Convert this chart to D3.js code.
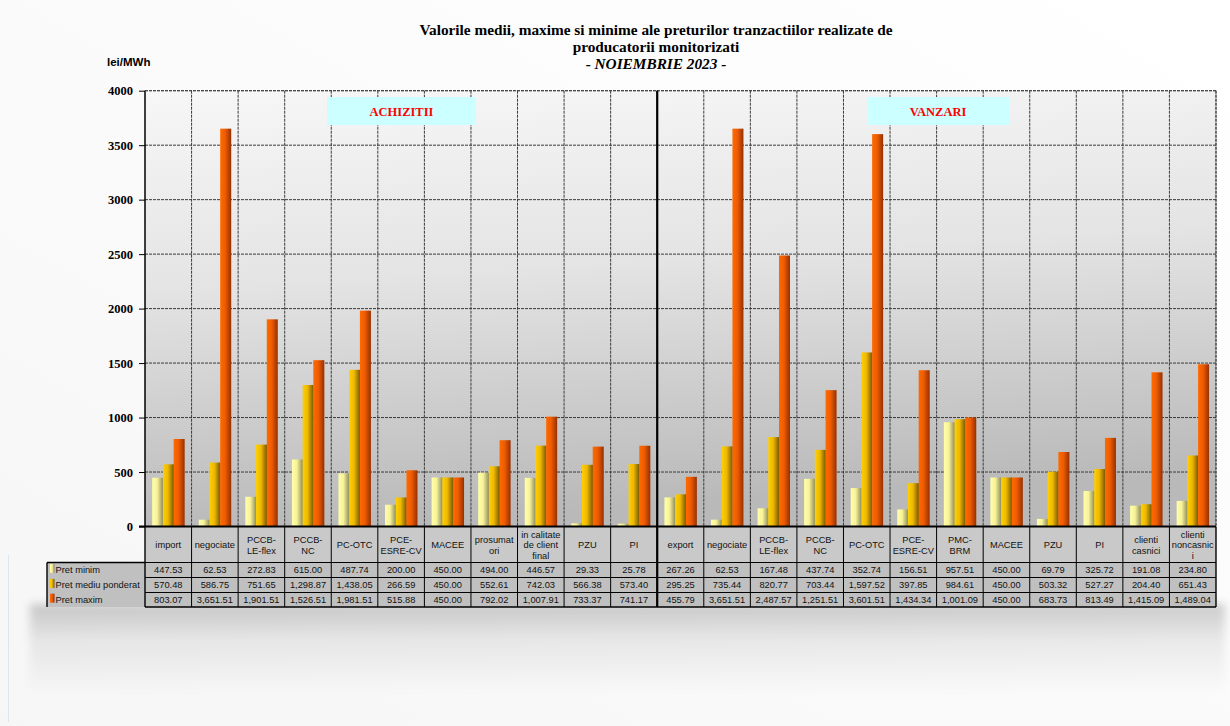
<!DOCTYPE html>
<html><head><meta charset="utf-8">
<script src="https://cdn.jsdelivr.net/npm/d3@7"></script>
<style>body{margin:0;background:#fff;}svg{display:block;}</style>
</head><body>
<script>
const categories = ["import","negociate","PCCB-LE-flex","PCCB-NC","PC-OTC","PCE-ESRE-CV","MACEE","prosumatori","in calitate de client final","PZU","PI","export","negociate","PCCB-LE-flex","PCCB-NC","PC-OTC","PCE-ESRE-CV","PMC-BRM","MACEE","PZU","PI","clienti casnici","clienti noncasnici"];
const categoryLines = [["import"],["negociate"],["PCCB-","LE-flex"],["PCCB-","NC"],["PC-OTC"],["PCE-","ESRE-CV"],["MACEE"],["prosumat","ori"],["in calitate","de client","final"],["PZU"],["PI"],["export"],["negociate"],["PCCB-","LE-flex"],["PCCB-","NC"],["PC-OTC"],["PCE-","ESRE-CV"],["PMC-","BRM"],["MACEE"],["PZU"],["PI"],["clienti","casnici"],["clienti","noncasnic","i"]];
const seriesNames = ["Pret minim","Pret mediu ponderat","Pret maxim"];
const pretMinim = [447.53,62.53,272.83,615.00,487.74,200.00,450.00,494.00,446.57,29.33,25.78,267.26,62.53,167.48,437.74,352.74,156.51,957.51,450.00,69.79,325.72,191.08,234.80];
const pretMediu = [570.48,586.75,751.65,1298.87,1438.05,266.59,450.00,552.61,742.03,566.38,573.40,295.25,735.44,820.77,703.44,1597.52,397.85,984.61,450.00,503.32,527.27,204.40,651.43];
const pretMaxim = [803.07,3651.51,1901.51,1526.51,1981.51,515.88,450.00,792.02,1007.91,733.37,741.17,455.79,3651.51,2487.57,1251.51,3601.51,1434.34,1001.09,450.00,683.73,813.49,1415.09,1489.04];
const yTicks = [0,500,1000,1500,2000,2500,3000,3500,4000];
const titleLines = ["Valorile medii, maxime si minime ale preturilor tranzactiilor realizate de","producatorii monitorizati","- NOIEMBRIE 2023 -"];
const sectionLabels = ["ACHIZITII","VANZARI"];
const splitIndex = 11;

const W=1230,H=726;
const L=145,R=1216,T=90.7,B=526.5;
const series=[pretMinim,pretMediu,pretMaxim];
const grads=[["#ffffa8","#f8f298","#8a8a5e"],["#ffd000","#eeb800","#745600"],["#ff6a00","#ee5c00","#953000"]];

const svg=d3.select("body").append("svg").attr("width",W).attr("height",H);
const defs=svg.append("defs");
const bg=defs.append("linearGradient").attr("id","bgG").attr("x1",0).attr("y1",1).attr("x2",1).attr("y2",0);
bg.append("stop").attr("offset",0).attr("stop-color","#f6f6f6");
bg.append("stop").attr("offset",1).attr("stop-color","#ffffff");
const pg=defs.append("linearGradient").attr("id","plotG").attr("x1",0).attr("y1",0).attr("x2",0.15).attr("y2",1);
pg.append("stop").attr("offset",0).attr("stop-color","#f7f7f7");
pg.append("stop").attr("offset",0.45).attr("stop-color","#e4e4e4");
pg.append("stop").attr("offset",1).attr("stop-color","#b9b9b9");
grads.forEach((g,i)=>{
  const lg=defs.append("linearGradient").attr("id","bar"+i).attr("x1",0).attr("x2",1).attr("y1",0).attr("y2",0);
  lg.append("stop").attr("offset",0).attr("stop-color",g[0]);
  lg.append("stop").attr("offset",0.45).attr("stop-color",g[1]);
  lg.append("stop").attr("offset",1).attr("stop-color",g[2]);
});
const sg=defs.append("linearGradient").attr("id","shadowG").attr("x1",0).attr("x2",0).attr("y1",0).attr("y2",1);
sg.append("stop").attr("offset",0).attr("stop-color","#000").attr("stop-opacity",0.2);
sg.append("stop").attr("offset",0.4).attr("stop-color","#000").attr("stop-opacity",0.07);
sg.append("stop").attr("offset",1).attr("stop-color","#000").attr("stop-opacity",0);
defs.append("filter").attr("id","blur").attr("x","-5%").attr("y","-20%").attr("width","110%").attr("height","140%")
  .append("feGaussianBlur").attr("stdDeviation",4);

svg.append("rect").attr("width",W).attr("height",H).attr("fill","url(#bgG)");
svg.append("line").attr("x1",8.5).attr("x2",8.5).attr("y1",555).attr("y2",722).attr("stroke","#dce6f0");

const x=d3.scaleBand().domain(d3.range(categories.length)).range([L,R]).paddingInner(0).paddingOuter(0);
const y=d3.scaleLinear().domain([0,4000]).range([B,T]);
const bw=x.bandwidth();
const inner=d3.scaleBand().domain([0,1,2]).range([bw*0.155,bw*0.845]);

// table shadow
svg.append("rect").attr("x",30).attr("y",604).attr("width",1195).attr("height",90).attr("fill","url(#shadowG)").attr("filter","url(#blur)");

// plot bg
svg.append("rect").attr("x",L).attr("y",T).attr("width",R-L).attr("height",B-T).attr("fill","url(#plotG)");

// grid
svg.append("g").selectAll("line").data(yTicks.filter(d=>d>0)).join("line")
  .attr("x1",L).attr("x2",R).attr("y1",d=>y(d)).attr("y2",d=>y(d))
  .attr("stroke","#3a3a3a").attr("stroke-width",1).attr("stroke-dasharray","3,1");
svg.append("g").selectAll("line").data(d3.range(1,categories.length+1)).join("line")
  .attr("x1",d=>L+d*bw).attr("x2",d=>L+d*bw).attr("y1",T).attr("y2",B)
  .attr("stroke","#3a3a3a").attr("stroke-width",1).attr("stroke-dasharray","3,1");

// section boxes
const sx=[[327,476],[867,1009]];
sectionLabels.forEach((s,i)=>{
  svg.append("rect").attr("x",sx[i][0]).attr("y",97).attr("width",sx[i][1]-sx[i][0]).attr("height",28).attr("fill","#ccffff");
  svg.append("text").attr("x",(sx[i][0]+sx[i][1])/2).attr("y",115.5).attr("text-anchor","middle")
    .attr("font-family","Liberation Serif").attr("font-weight","bold").attr("font-size",12.5).attr("fill","#ff0000").text(s);
});

// bars
series.forEach((vals,si)=>{
  svg.append("g").selectAll("rect").data(vals).join("rect")
    .attr("x",(d,i)=>x(i)+inner(si)).attr("width",inner.bandwidth()+0.3)
    .attr("y",d=>y(d)).attr("height",d=>B-y(d)).attr("fill","url(#bar"+si+")");
});

// axes lines
svg.append("line").attr("x1",L).attr("x2",L).attr("y1",T).attr("y2",B).attr("stroke","#000").attr("stroke-width",1.5);
svg.append("line").attr("x1",R).attr("x2",R).attr("y1",T).attr("y2",B).attr("stroke","#444").attr("stroke-dasharray","3,1");
svg.append("line").attr("x1",L).attr("x2",R).attr("y1",T).attr("y2",T).attr("stroke","#444").attr("stroke-dasharray","3,1");

// y axis labels
const yAxis=d3.axisLeft(y).tickValues(yTicks).tickSize(6).tickPadding(6).tickFormat(d3.format("d"));
const ya=svg.append("g").attr("transform",`translate(${L},0)`).call(yAxis);
ya.select(".domain").remove();
ya.selectAll("line").attr("stroke","#000");
ya.selectAll("text").attr("font-family","Liberation Serif").attr("font-weight","bold").attr("font-size",12.5).attr("fill","#000");
svg.append("text").attr("x",107).attr("y",66).attr("font-family","Liberation Sans").attr("font-weight","bold").attr("font-size",11.5).text("lei/MWh");

// title
titleLines.forEach((t,i)=>{
  svg.append("text").attr("x",656).attr("y",35+i*17).attr("text-anchor","middle")
    .attr("font-family","Liberation Serif").attr("font-weight","bold").attr("font-style",i==2?"italic":"normal")
    .attr("font-size",15.3).text(t);
});

// table
const tb={labTop:B,labBot:562.5,rows:[562.5,577.5,592.5,607],left:47};
const tg=svg.append("g");
tg.append("rect").attr("x",L).attr("y",tb.labTop).attr("width",R-L).attr("height",tb.labBot-tb.labTop).attr("fill","#c9c9c9");
tg.append("rect").attr("x",tb.left).attr("y",tb.rows[0]).attr("width",R-tb.left).attr("height",tb.rows[3]-tb.rows[0]).attr("fill","#c0c0c0");
categoryLines.forEach((lines,i)=>{
  const cy=545, lh=10.5, y0=cy-(lines.length-1)*lh/2;
  lines.forEach((ln,j)=>{
    tg.append("text").attr("x",x(i)+bw/2).attr("y",y0+j*lh+3.3).attr("text-anchor","middle")
      .attr("font-family","Liberation Sans").attr("font-size",9.3).attr("fill","#111").text(ln);
  });
});
const fmt=d3.format(",.2f");
series.forEach((vals,si)=>{
  const cy=(tb.rows[si]+tb.rows[si+1])/2+3.4;
  tg.append("g").selectAll("text").data(vals).join("text")
    .attr("x",(d,i)=>x(i)+bw/2).attr("y",cy).attr("text-anchor","middle")
    .attr("font-family","Liberation Sans").attr("font-size",9.3).attr("fill","#111").text(d=>fmt(d));
  tg.append("rect").attr("x",50).attr("y",cy-9.5).attr("width",4.5).attr("height",9).attr("fill","url(#bar"+si+")");
  tg.append("text").attr("x",55.5).attr("y",cy).attr("font-family","Liberation Sans").attr("font-size",9.3).attr("fill","#111").text(seriesNames[si]);
});
tb.rows.forEach((ry,i)=>{
  tg.append("line").attr("x1",i==0?tb.left:L).attr("x2",R).attr("y1",ry).attr("y2",ry).attr("stroke","#000").attr("stroke-width",i==3?1.6:1);
});
tg.append("line").attr("x1",tb.left).attr("x2",L).attr("y1",tb.rows[0]).attr("y2",tb.rows[0]).attr("stroke","#000").attr("stroke-width",1.4);
tg.append("line").attr("x1",tb.left).attr("x2",tb.left).attr("y1",tb.rows[0]).attr("y2",tb.rows[3]).attr("stroke","#000").attr("stroke-width",1.4);
tg.append("g").selectAll("line").data(d3.range(0,categories.length+1)).join("line")
  .attr("x1",d=>L+d*bw).attr("x2",d=>L+d*bw).attr("y1",tb.labTop).attr("y2",tb.rows[3])
  .attr("stroke","#000").attr("stroke-width",d=>(d==0||d==categories.length)?1.4:1);
svg.append("line").attr("x1",L-6).attr("x2",R).attr("y1",B).attr("y2",B).attr("stroke","#000").attr("stroke-width",2);
svg.append("line").attr("x1",L+splitIndex*bw).attr("x2",L+splitIndex*bw).attr("y1",T).attr("y2",tb.rows[3]).attr("stroke","#000").attr("stroke-width",2.2);
</script>
</body></html>
